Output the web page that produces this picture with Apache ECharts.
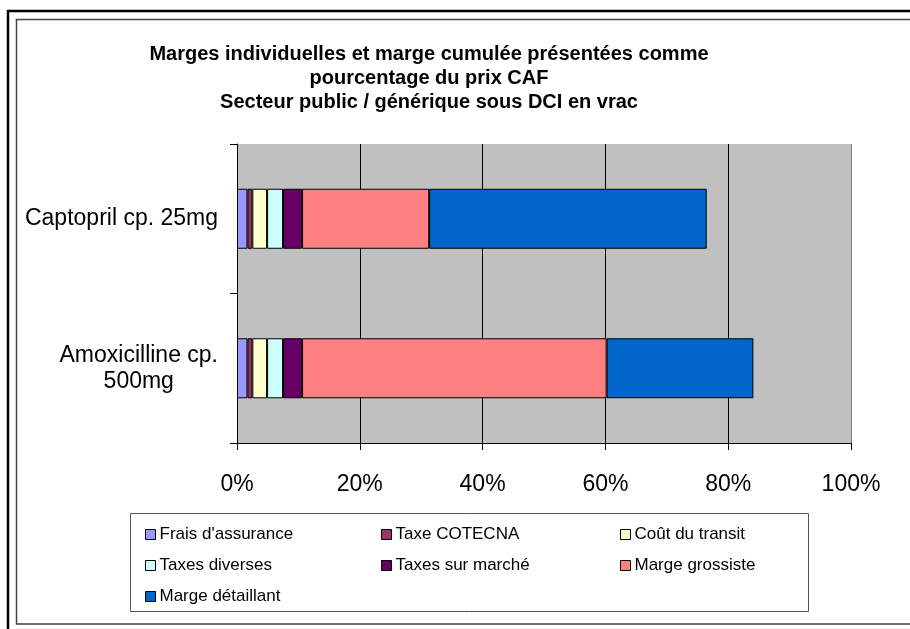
<!DOCTYPE html>
<html>
<head>
<meta charset="utf-8">
<script src="https://cdn.jsdelivr.net/npm/echarts@6/dist/echarts.min.js"></script>
<style>
html, body { margin: 0; padding: 0; background: #fff; }
#chart { width: 910px; height: 629px; }
</style>
</head>
<body>
<div id="chart"></div>
<script>
// catégories (de haut en bas)
var categories = ['Captopril cp. 25mg', 'Amoxicilline cp.\n500mg'];

// pourcentages du prix CAF
var fraisAssurance = [1.7, 1.7];
var taxeCotecna = [0.8, 0.8];
var coutTransit = [2.4, 2.4];
var taxesDiverses = [2.6, 2.6];
var taxesMarche = [3.1, 3.1];
var margeGrossiste = [20.7, 49.6];
var margeDetaillant = [45.2, 23.9];

var seriesNames = ["Frais d'assurance", 'Taxe COTECNA', 'Coût du transit',
    'Taxes diverses', 'Taxes sur marché', 'Marge grossiste', 'Marge détaillant'];
var seriesData = [fraisAssurance, taxeCotecna, coutTransit, taxesDiverses,
    taxesMarche, margeGrossiste, margeDetaillant];
var colors = ['#9999FF', '#993366', '#FFFFCC', '#CCFFFF', '#660066', '#FF8080', '#0066CC'];

var font = 'Arial, "Liberation Sans", sans-serif';

window.onload = function() {
    var myChart = echarts.init(document.getElementById('chart'));

    var series = seriesNames.map(function(name, i) {
        return {
            name: name,
            type: 'bar',
            stack: 'total',
            barWidth: 60,
            data: seriesData[i],
            itemStyle: {
                color: colors[i],
                borderColor: '#000',
                borderWidth: 1
            }
        };
    });

    function legendCol(data, left) {
        return {
            orient: 'vertical',
            left: left,
            top: 521,
            itemGap: 14,
            itemWidth: 10,
            itemHeight: 10,
            icon: 'rect',
            selectedMode: false,
            itemStyle: { borderColor: '#000', borderWidth: 1 },
            textStyle: { fontFamily: font, fontSize: 17, color: '#000', padding: [0, 0, 0, -1] },
            data: data
        };
    }

    var option = {
        animation: false,
        backgroundColor: '#fff',
        title: {
            text: 'Marges individuelles et marge cumulée présentées comme\npourcentage du prix CAF\nSecteur public / générique sous DCI en vrac',
            left: 424,
            top: 37,
            textAlign: 'center',
            textStyle: {
                fontFamily: font,
                fontSize: 20,
                fontWeight: 'bold',
                color: '#000',
                lineHeight: 24
            }
        },
        legend: [
            legendCol(["Frais d'assurance", 'Taxes diverses', 'Marge détaillant'], 140),
            legendCol(['Taxe COTECNA', 'Taxes sur marché'], 376),
            legendCol(['Coût du transit', 'Marge grossiste'], 615)
        ],
        grid: {
            left: 237,
            right: 59,
            top: 144,
            bottom: 186,
            show: true,
            backgroundColor: '#C0C0C0',
            borderWidth: 0
        },
        xAxis: {
            type: 'value',
            min: 0,
            max: 100,
            interval: 20,
            axisLine: { show: true, lineStyle: { color: '#000', width: 1 } },
            axisTick: { show: true, length: 7, lineStyle: { color: '#000' } },
            axisLabel: {
                formatter: '{value}%',
                fontFamily: font,
                fontSize: 23,
                color: '#000',
                margin: 30
            },
            splitLine: {
                show: true,
                lineStyle: { color: ['#000', '#000', '#000', '#000', '#000', '#808080'], width: 1 }
            }
        },
        yAxis: {
            type: 'category',
            inverse: true,
            data: categories,
            axisLine: { show: true, lineStyle: { color: '#000', width: 1 } },
            axisTick: { show: true, length: 7, lineStyle: { color: '#000' } },
            axisLabel: {
                margin: 19,
                formatter: function(v) {
                    return v.split('\n').map(function(s) { return '{c|' + s + '}'; }).join('\n');
                },
                rich: {
                    c: {
                        fontFamily: font,
                        fontSize: 23,
                        color: '#000',
                        lineHeight: 26,
                        align: 'center'
                    }
                }
            }
        },
        graphic: [
            {
                type: 'rect',
                shape: { x: 8, y: 11, width: 1000, height: 1000 },
                style: { fill: 'none', stroke: '#000', lineWidth: 2.5 },
                silent: true
            },
            {
                type: 'rect',
                shape: { x: 16.5, y: 19.5, width: 1000, height: 604.5 },
                style: { fill: 'none', stroke: '#444', lineWidth: 1.5 },
                silent: true
            },
            {
                type: 'rect',
                shape: { x: 130.5, y: 513.5, width: 678, height: 98 },
                style: { fill: 'none', stroke: '#555', lineWidth: 1 },
                silent: true
            }
        ],
        series: series
    };

    myChart.setOption(option);
};
</script>
</body>
</html>
